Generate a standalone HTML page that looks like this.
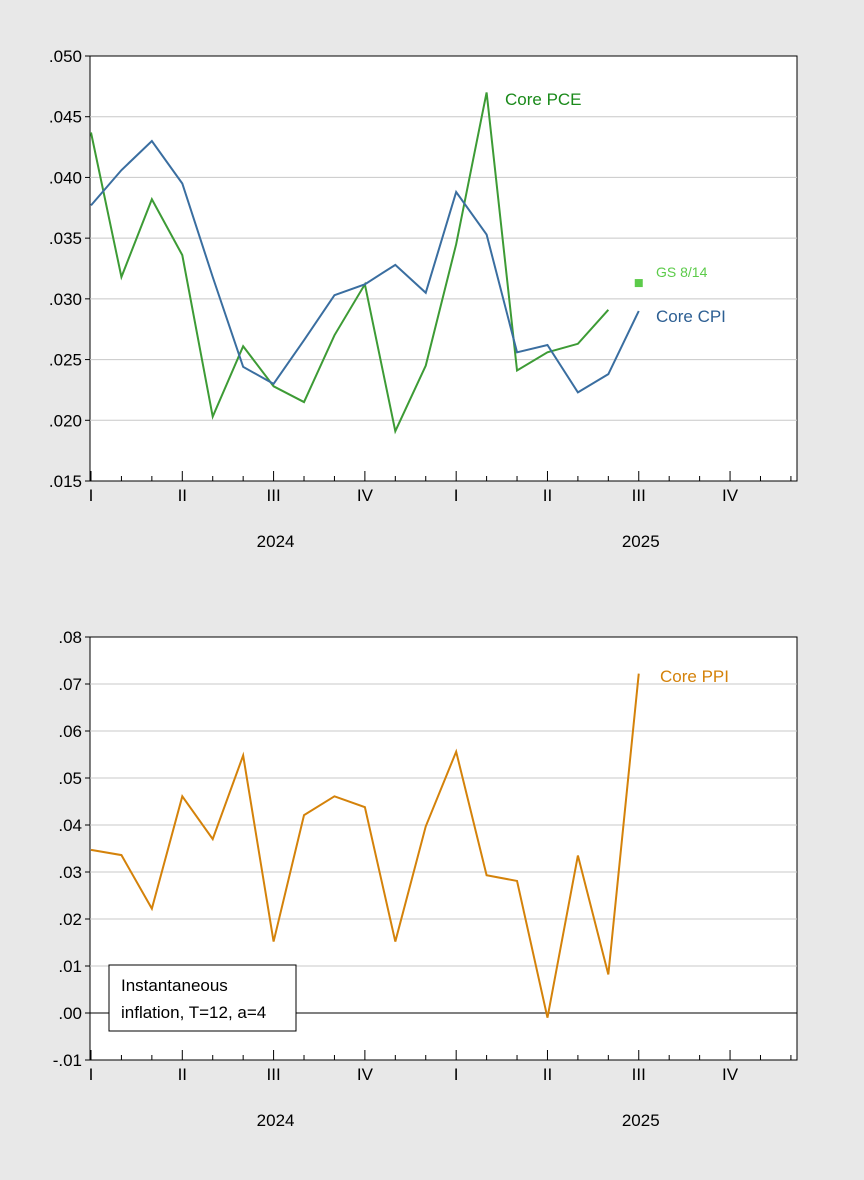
<!DOCTYPE html>
<html><head><meta charset="utf-8"><style>
body{margin:0;background:#e8e8e8;font-family:"Liberation Sans",Arial,sans-serif}
svg{display:block}
</style></head><body>
<svg width="864" height="1180" xmlns="http://www.w3.org/2000/svg">
<rect x="0" y="0" width="864" height="1180" fill="#e8e8e8"/>
<g id="top"></g>
<g id="bot"></g>
</svg>
<script>
const monthsCount = 24;
const quarterLabels = ["I","II","III","IV","I","II","III","IV"];
const yearLabels = ["2024","2025"];
const coreCPI = [.0377,.0406,.0430,.0395,.0318,.0244,.0230,.0266,.0303,.0312,.0328,.0305,.0388,.0353,.0256,.0262,.0223,.0238,.0290];
const corePCE = [.0437,.0318,.0382,.0336,.0203,.0261,.0228,.0215,.0270,.0312,.0191,.0245,.0345,.0470,.0241,.0256,.0263,.0291];
const gsIndex = 18;
const gsValue = .0313;
const corePPI = [.0347,.0336,.0222,.0461,.0370,.0548,.0152,.0421,.0461,.0438,.0152,.0397,.0556,.0293,.0281,-.0010,.0335,.0082,.0722];
const topTicks = [.015,.020,.025,.030,.035,.040,.045,.050];
const botTicks = [-.01,0,.01,.02,.03,.04,.05,.06,.07,.08];

const NS="http://www.w3.org/2000/svg";
function mk(parent,tag,attrs,name,text){const e=document.createElementNS(NS,tag);for(const k in attrs)e.setAttribute(k,attrs[k]);


if(text!==undefined)e.textContent=text;parent.appendChild(e);return e;}

function chart(g,top,bottom,ymin,ymax,ticks,fmt){
  const L=90,R=797;
  const xs=i=>L+1+i*(R-L-1)/23.2;
  const ys=v=>bottom-(v-ymin)/(ymax-ymin)*(bottom-top);
  mk(g,'rect',{x:L,y:top,width:R-L,height:bottom-top,fill:'#fff',stroke:'#000','stroke-width':1},'plot-area');
  ticks.forEach(t=>{const y=ys(t);
    if(t>ymin&&t<ymax)mk(g,'line',{x1:L,x2:R,y1:y,y2:y,stroke:t===0?'#000':'#c8c8c8','stroke-width':1},'gridline');
    mk(g,'line',{x1:L-5,x2:L,y1:y,y2:y,stroke:'#000'},'y-tick');
    mk(g,'text',{x:L-8,y:y+6,'text-anchor':'end','font-size':17,fill:'#000'},'y-tick-label',fmt(t));});
  for(let i=0;i<=monthsCount;i++){const x=xs(i);if(x>R)break;const major=i%3===0;
    mk(g,'line',{x1:x,x2:x,y1:bottom,y2:bottom-(major?10:5),stroke:'#000'},'x-tick');}
  quarterLabels.forEach((q,i)=>mk(g,'text',{x:xs(i*3),y:bottom+20,'text-anchor':'middle','font-size':17},'x-quarter-label',q));
  yearLabels.forEach((yl,i)=>mk(g,'text',{x:xs(i*12+6)+2,y:bottom+66,'text-anchor':'middle','font-size':17},'x-year-label',yl));
  return {xs,ys};
}
function line(g,a,data,color,name){mk(g,'polyline',{points:data.map((v,i)=>a.xs(i)+','+a.ys(v)).join(' '),fill:'none',stroke:color,'stroke-width':2},name);}

const gt=document.getElementById('top');
const a=chart(gt,56,481,.015,.050,topTicks,t=>t.toFixed(3).replace(/^0/,''));
line(gt,a,corePCE,'#3d9b35','core-pce-line');
line(gt,a,coreCPI,'#3a6ea0','core-cpi-line');
mk(gt,'rect',{x:a.xs(gsIndex)-4,y:a.ys(gsValue)-4,width:8,height:8,fill:'#5ccb4a'},'gs-marker');
mk(gt,'text',{x:505,y:105,'font-size':17,fill:'#1a8a1a'},'core-pce-label','Core PCE');
mk(gt,'text',{x:656,y:277,'font-size':14,fill:'#5ccb4a'},'gs-label','GS 8/14');
mk(gt,'text',{x:656,y:322,'font-size':17,fill:'#2d5f93'},'core-cpi-label','Core CPI');

const gb=document.getElementById('bot');
const b=chart(gb,637,1060,-.01,.08,botTicks,t=>(t<0?'-':'')+Math.abs(t).toFixed(2).replace(/^0/,''));
line(gb,b,corePPI,'#d4820a','core-ppi-line');
mk(gb,'text',{x:660,y:682,'font-size':17,fill:'#d4820a'},'core-ppi-label','Core PPI');
mk(gb,'rect',{x:109,y:965,width:187,height:66,fill:'#fff',stroke:'#000'},'annotation-box');
mk(gb,'text',{x:121,y:991,'font-size':17},'annotation-line1','Instantaneous');
mk(gb,'text',{x:121,y:1018,'font-size':17},'annotation-line2','inflation, T=12, a=4');
</script>
</body></html>
